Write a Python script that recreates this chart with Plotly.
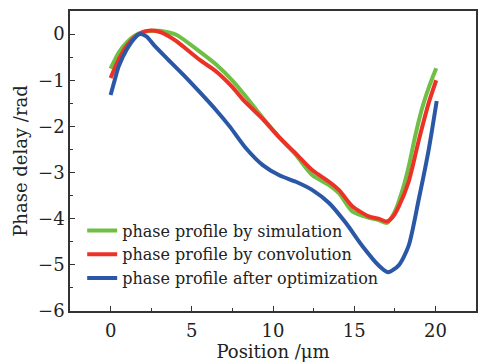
import plotly.graph_objects as go

# Green: phase profile by simulation
sim_x = [0, 0.5, 1.0, 1.5, 2.0, 2.5, 3.0, 3.5, 4.07, 5.49, 6.5, 7.53, 8.55, 9.37, 10.39, 11.41, 12.43, 13.45, 14.07, 14.88, 15.9, 16.5, 17.02, 17.5, 18.0, 18.35, 18.75, 19.17, 19.6, 20.05]
sim_y = [-0.75, -0.4, -0.18, -0.03, 0.04, 0.07, 0.07, 0.04, -0.02, -0.38, -0.66, -1.02, -1.45, -1.82, -2.24, -2.62, -3.06, -3.27, -3.45, -3.84, -3.98, -4.03, -4.09, -3.85, -3.35, -2.88, -2.22, -1.62, -1.15, -0.74]

# Red: phase profile by convolution
conv_x = [0, 0.5, 1.0, 1.5, 2.0, 2.5, 3.0, 3.5, 4.07, 5.49, 6.5, 7.53, 8.15, 9.37, 10.39, 11.41, 12.43, 13.45, 14.07, 14.88, 15.9, 16.5, 17.02, 17.4, 17.74, 18.35, 18.97, 19.58, 20.05]
conv_y = [-0.95, -0.55, -0.25, -0.06, 0.05, 0.08, 0.05, -0.03, -0.16, -0.56, -0.81, -1.16, -1.42, -1.84, -2.24, -2.59, -2.95, -3.2, -3.38, -3.73, -3.95, -4.0, -4.06, -3.95, -3.74, -3.2, -2.31, -1.5, -1.0]

# Blue: phase profile after optimization
opt_x = [0, 0.25, 0.5, 1.0, 1.5, 1.8, 2.2, 2.7, 3.45, 4.47, 5.49, 6.5, 7.33, 8.35, 9.37, 10.39, 11.41, 12.43, 13.45, 14.48, 15.5, 16.5, 17.08, 17.74, 18.35, 18.97, 19.58, 20.08]
opt_y = [-1.32, -1.0, -0.7, -0.33, -0.08, 0.0, -0.05, -0.25, -0.52, -0.88, -1.26, -1.65, -2.0, -2.48, -2.84, -3.06, -3.2, -3.38, -3.66, -4.09, -4.59, -5.01, -5.16, -5.01, -4.59, -3.59, -2.52, -1.45]

names = ["phase profile by simulation", "phase profile by convolution", "phase profile after optimization"]
colors = ["#6fbf44", "#ec3226", "#2b57a7"]

FONT = "DejaVu Serif"

fig = go.Figure()
for xs, ys, nm, c in [(sim_x, sim_y, names[0], colors[0]),
                      (conv_x, conv_y, names[1], colors[1]),
                      (opt_x, opt_y, names[2], colors[2])]:
    fig.add_trace(go.Scatter(x=xs, y=ys, mode="lines", name=nm,
                             line=dict(color=c, width=4, shape="spline", smoothing=0.7)))

axis_common = dict(showline=True, linecolor="#333333", linewidth=1.5, mirror=True,
                   ticks="inside", ticklen=5, tickcolor="#333333", showgrid=False, zeroline=False,
                   tickfont=dict(family=FONT, size=18, color="#222222"))

fig.update_layout(
    width=487, height=364,
    margin=dict(l=70, r=10, t=9, b=51),
    paper_bgcolor="white", plot_bgcolor="white",
    font=dict(family=FONT, color="#222222"),
    showlegend=True,
    legend=dict(x=0.03, y=0.325, xanchor="left", yanchor="top",
                bgcolor="rgba(0,0,0,0)", font=dict(family=FONT, size=16, color="#222222"),
                tracegroupgap=0, itemwidth=30),
)
fig.update_xaxes(range=[-2.5, 22.5], tickvals=[0, 5, 10, 15, 20], ticklabelstandoff=3,
                 minor=dict(dtick=2.5, tick0=0, ticks="inside", ticklen=3, tickcolor="#333333"),
                 title=dict(text="Position /μm", font=dict(family=FONT, size=18), standoff=1),
                 **axis_common)
fig.update_yaxes(range=[-6, 0.5], tickvals=[0, -1, -2, -3, -4, -5, -6],
                 minor=dict(dtick=0.5, tick0=0, ticks="inside", ticklen=3, tickcolor="#333333"),
                 title=dict(text="Phase delay /rad", font=dict(family=FONT, size=18), standoff=6),
                 **axis_common)

fig.write_html("out.html")
